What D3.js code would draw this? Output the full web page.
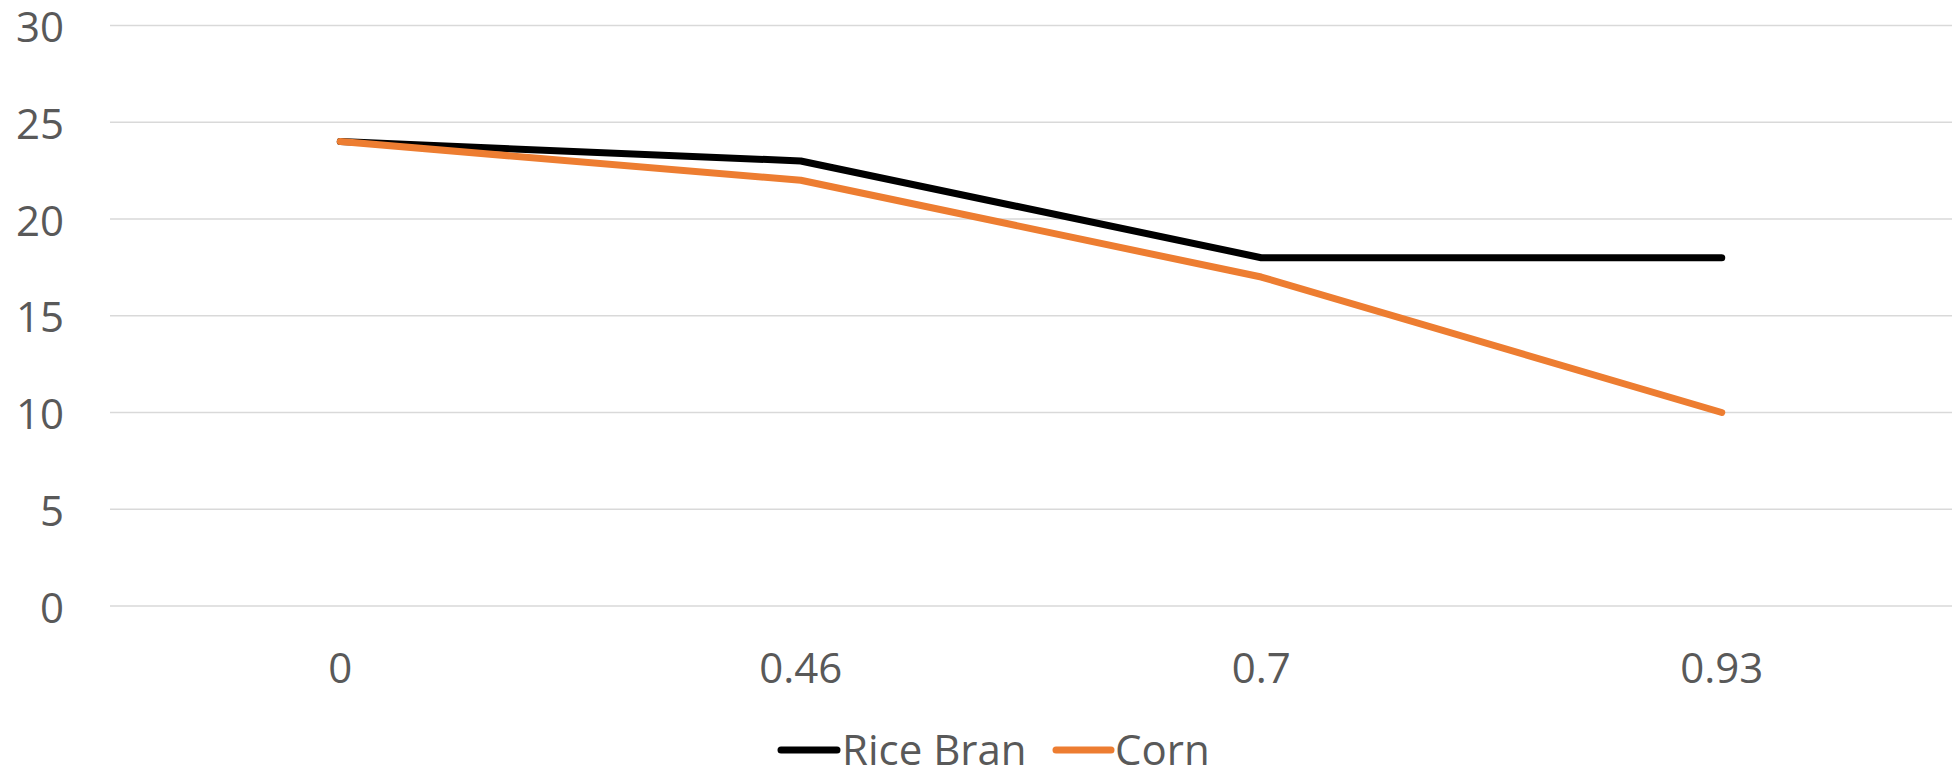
<!DOCTYPE html>
<html>
<head>
<meta charset="utf-8">
<script src="https://cdn.jsdelivr.net/npm/d3@7"></script>
<style>
  html, body { margin: 0; padding: 0; background: #fff; }
  svg { display: block; }
  text { font-family: "Open Sans", "Noto Sans", sans-serif; fill: #595959; }
</style>
</head>
<body>
<svg id="chart" width="1959" height="772"></svg>
<script>
const categories = ["0", "0.46", "0.7", "0.93"];
const riceBran = [24, 23, 18, 18];
const corn = [24, 22, 17, 10];
const yTicks = [0, 5, 10, 15, 20, 25, 30];
const seriesNames = ["Rice Bran", "Corn"];
const seriesColors = ["#000000", "#ED7D31"];

const svg = d3.select("#chart");
const x = d3.scaleBand().domain(categories).range([110, 1952]);
const y = d3.scaleLinear().domain([0, 30]).range([606, 25.5]);

// gridlines
svg.append("g").selectAll("line").data(yTicks).join("line")
  .attr("x1", 110).attr("x2", 1952)
  .attr("y1", d => y(d)).attr("y2", d => y(d))
  .attr("stroke", "#d9d9d9").attr("stroke-width", 1.5);

// y labels
svg.append("g").selectAll("text").data(yTicks).join("text")
  .attr("x", 64).attr("y", d => y(d))
  .attr("text-anchor", "end").attr("dominant-baseline", "central")
  .attr("font-size", 42)
  .text(d => d);

// x labels
svg.append("g").selectAll("text").data(categories).join("text")
  .attr("x", d => x(d) + x.bandwidth() / 2).attr("y", 683)
  .attr("text-anchor", "middle")
  .attr("font-size", 42)
  .text(d => d);

const line = d3.line()
  .x((d, i) => x(categories[i]) + x.bandwidth() / 2)
  .y(d => y(d));

[riceBran, corn].forEach((s, k) => {
  svg.append("path").datum(s)
    .attr("d", line)
    .attr("fill", "none")
    .attr("stroke", seriesColors[k])
    .attr("stroke-width", 7)
    .attr("stroke-linejoin", "round")
    .attr("stroke-linecap", "round");
});

// legend
const legendItems = [
  { name: seriesNames[0], color: seriesColors[0], x1: 781, x2: 837, tx: 842 },
  { name: seriesNames[1], color: seriesColors[1], x1: 1056, x2: 1111, tx: 1115 }
];
const lg = svg.append("g");
legendItems.forEach(it => {
  lg.append("line").attr("x1", it.x1).attr("x2", it.x2)
    .attr("y1", 750).attr("y2", 750)
    .attr("stroke", it.color).attr("stroke-width", 7).attr("stroke-linecap", "round");
  lg.append("text").attr("x", it.tx).attr("y", 765)
    .attr("font-size", 42).text(it.name);
});
</script>
</body>
</html>
